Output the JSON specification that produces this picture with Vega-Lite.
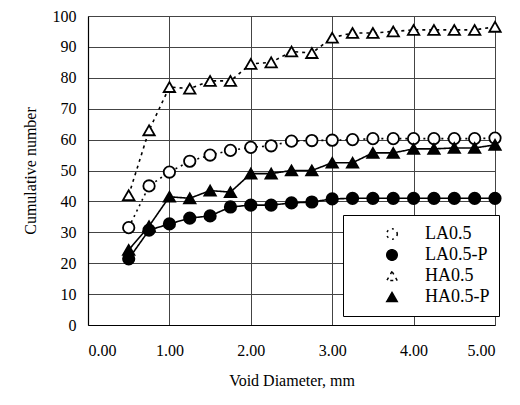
{
  "$schema": "https://vega.github.io/schema/vega-lite/v6.json",
  "width": 407,
  "height": 309,
  "padding": {"left": 22, "top": 8, "right": 5, "bottom": 5},
  "background": "white",
  "config": {
    "view": {"stroke": null},
    "font": "Liberation Serif",
    "axis": {"labelFont": "Liberation Serif", "titleFont": "Liberation Serif", "labelColor": "black", "titleColor": "black", "titleFontWeight": "normal", "labelFontSize": 16, "titleFontSize": 16, "domainColor": "black", "domainWidth": 1.2, "gridColor": "#444", "gridWidth": 1, "gridOpacity": 1},
    "legend": {"labelFont": "Liberation Serif"}
  },
  "data": {"values": [
    {"d": 0.5, "v": 31.5, "s": "LA0.5"}, {"d": 0.75, "v": 45, "s": "LA0.5"}, {"d": 1.0, "v": 49.5, "s": "LA0.5"}, {"d": 1.25, "v": 53, "s": "LA0.5"}, {"d": 1.5, "v": 55, "s": "LA0.5"}, {"d": 1.75, "v": 56.5, "s": "LA0.5"}, {"d": 2.0, "v": 57.5, "s": "LA0.5"}, {"d": 2.25, "v": 58, "s": "LA0.5"}, {"d": 2.5, "v": 59.5, "s": "LA0.5"}, {"d": 2.75, "v": 59.7, "s": "LA0.5"}, {"d": 3.0, "v": 59.8, "s": "LA0.5"}, {"d": 3.25, "v": 60, "s": "LA0.5"}, {"d": 3.5, "v": 60.3, "s": "LA0.5"}, {"d": 3.75, "v": 60.3, "s": "LA0.5"}, {"d": 4.0, "v": 60.3, "s": "LA0.5"}, {"d": 4.25, "v": 60.3, "s": "LA0.5"}, {"d": 4.5, "v": 60.3, "s": "LA0.5"}, {"d": 4.75, "v": 60.3, "s": "LA0.5"}, {"d": 5.0, "v": 60.5, "s": "LA0.5"},
    {"d": 0.5, "v": 21.4, "s": "LA0.5-P"}, {"d": 0.75, "v": 30.7, "s": "LA0.5-P"}, {"d": 1.0, "v": 32.7, "s": "LA0.5-P"}, {"d": 1.25, "v": 34.6, "s": "LA0.5-P"}, {"d": 1.5, "v": 35.3, "s": "LA0.5-P"}, {"d": 1.75, "v": 38.2, "s": "LA0.5-P"}, {"d": 2.0, "v": 38.8, "s": "LA0.5-P"}, {"d": 2.25, "v": 38.8, "s": "LA0.5-P"}, {"d": 2.5, "v": 39.5, "s": "LA0.5-P"}, {"d": 2.75, "v": 39.8, "s": "LA0.5-P"}, {"d": 3.0, "v": 40.8, "s": "LA0.5-P"}, {"d": 3.25, "v": 41, "s": "LA0.5-P"}, {"d": 3.5, "v": 41, "s": "LA0.5-P"}, {"d": 3.75, "v": 41, "s": "LA0.5-P"}, {"d": 4.0, "v": 41, "s": "LA0.5-P"}, {"d": 4.25, "v": 41, "s": "LA0.5-P"}, {"d": 4.5, "v": 41, "s": "LA0.5-P"}, {"d": 4.75, "v": 41, "s": "LA0.5-P"}, {"d": 5.0, "v": 41, "s": "LA0.5-P"},
    {"d": 0.5, "v": 42, "s": "HA0.5"}, {"d": 0.75, "v": 63, "s": "HA0.5"}, {"d": 1.0, "v": 77, "s": "HA0.5"}, {"d": 1.25, "v": 76.5, "s": "HA0.5"}, {"d": 1.5, "v": 79, "s": "HA0.5"}, {"d": 1.75, "v": 79, "s": "HA0.5"}, {"d": 2.0, "v": 84.5, "s": "HA0.5"}, {"d": 2.25, "v": 85, "s": "HA0.5"}, {"d": 2.5, "v": 88.5, "s": "HA0.5"}, {"d": 2.75, "v": 88, "s": "HA0.5"}, {"d": 3.0, "v": 93, "s": "HA0.5"}, {"d": 3.25, "v": 94.5, "s": "HA0.5"}, {"d": 3.5, "v": 94.5, "s": "HA0.5"}, {"d": 3.75, "v": 95, "s": "HA0.5"}, {"d": 4.0, "v": 95.5, "s": "HA0.5"}, {"d": 4.25, "v": 95.5, "s": "HA0.5"}, {"d": 4.5, "v": 95.5, "s": "HA0.5"}, {"d": 4.75, "v": 95.5, "s": "HA0.5"}, {"d": 5.0, "v": 96.5, "s": "HA0.5"},
    {"d": 0.5, "v": 24.3, "s": "HA0.5-P"}, {"d": 0.75, "v": 32, "s": "HA0.5-P"}, {"d": 1.0, "v": 41.5, "s": "HA0.5-P"}, {"d": 1.25, "v": 41, "s": "HA0.5-P"}, {"d": 1.5, "v": 43.5, "s": "HA0.5-P"}, {"d": 1.75, "v": 43, "s": "HA0.5-P"}, {"d": 2.0, "v": 49, "s": "HA0.5-P"}, {"d": 2.25, "v": 49, "s": "HA0.5-P"}, {"d": 2.5, "v": 50, "s": "HA0.5-P"}, {"d": 2.75, "v": 50, "s": "HA0.5-P"}, {"d": 3.0, "v": 52.5, "s": "HA0.5-P"}, {"d": 3.25, "v": 52.5, "s": "HA0.5-P"}, {"d": 3.5, "v": 55.7, "s": "HA0.5-P"}, {"d": 3.75, "v": 55.7, "s": "HA0.5-P"}, {"d": 4.0, "v": 57, "s": "HA0.5-P"}, {"d": 4.25, "v": 57, "s": "HA0.5-P"}, {"d": 4.5, "v": 57.3, "s": "HA0.5-P"}, {"d": 4.75, "v": 57.3, "s": "HA0.5-P"}, {"d": 5.0, "v": 58.3, "s": "HA0.5-P"}
  ]},
  "encoding": {
    "x": {"field": "d", "type": "quantitative", "scale": {"domain": [0, 5], "nice": false},
      "axis": {"values": [0, 1, 2, 3, 4, 5], "format": ".2f", "title": "Void Diameter, mm", "ticks": false, "labelPadding": 17, "titlePadding": 14, "grid": true}},
    "y": {"field": "v", "type": "quantitative", "scale": {"domain": [0, 100], "nice": false},
      "axis": {"values": [0, 10, 20, 30, 40, 50, 60, 70, 80, 90, 100], "title": "Cumulative number", "ticks": false, "labelPadding": 12, "titlePadding": 14, "grid": true}}
  },
  "layer": [
    {
      "mark": {"type": "line", "color": "black", "strokeWidth": 1.6},
      "encoding": {
        "detail": {"field": "s"},
        "strokeDash": {"field": "s", "type": "nominal",
          "scale": {"domain": ["LA0.5", "LA0.5-P", "HA0.5", "HA0.5-P"], "range": [[2, 4], [1, 0], [3, 4], [1, 0]]},
          "legend": {"title": null, "orient": "none", "legendX": 255, "legendY": 199, "symbolSize": 110, "symbolOffset": 31, "clipHeight": 20, "rowPadding": 1, "padding": 9, "strokeColor": "black", "fillColor": "white", "labelFontSize": 18, "labelColor": "black", "labelOffset": 24, "labelLimit": 200,
            "encode": {"symbols": {"update": {
              "shape": {"signal": "indexof(datum.value, 'LA') === 0 ? 'circle' : 'triangle-up'"},
              "fill": {"signal": "indexof(datum.value, '-P') > 0 ? 'black' : 'white'"},
              "stroke": {"value": "black"},
              "strokeDash": {"value": [1, 0]},
              "strokeWidth": {"value": 1.5},
              "opacity": {"value": 1}
            }}}}}
      }
    },
    {
      "mark": {"type": "point", "filled": true, "stroke": "black", "strokeWidth": 1.8, "size": 130, "opacity": 1},
      "encoding": {
        "shape": {"field": "s", "type": "nominal", "legend": null,
          "scale": {"domain": ["LA0.5", "LA0.5-P", "HA0.5", "HA0.5-P"], "range": ["circle", "circle", "triangle-up", "triangle-up"]}},
        "fill": {"field": "s", "type": "nominal", "legend": null,
          "scale": {"domain": ["LA0.5", "LA0.5-P", "HA0.5", "HA0.5-P"], "range": ["white", "black", "white", "black"]}}
      }
    }
  ]
}
